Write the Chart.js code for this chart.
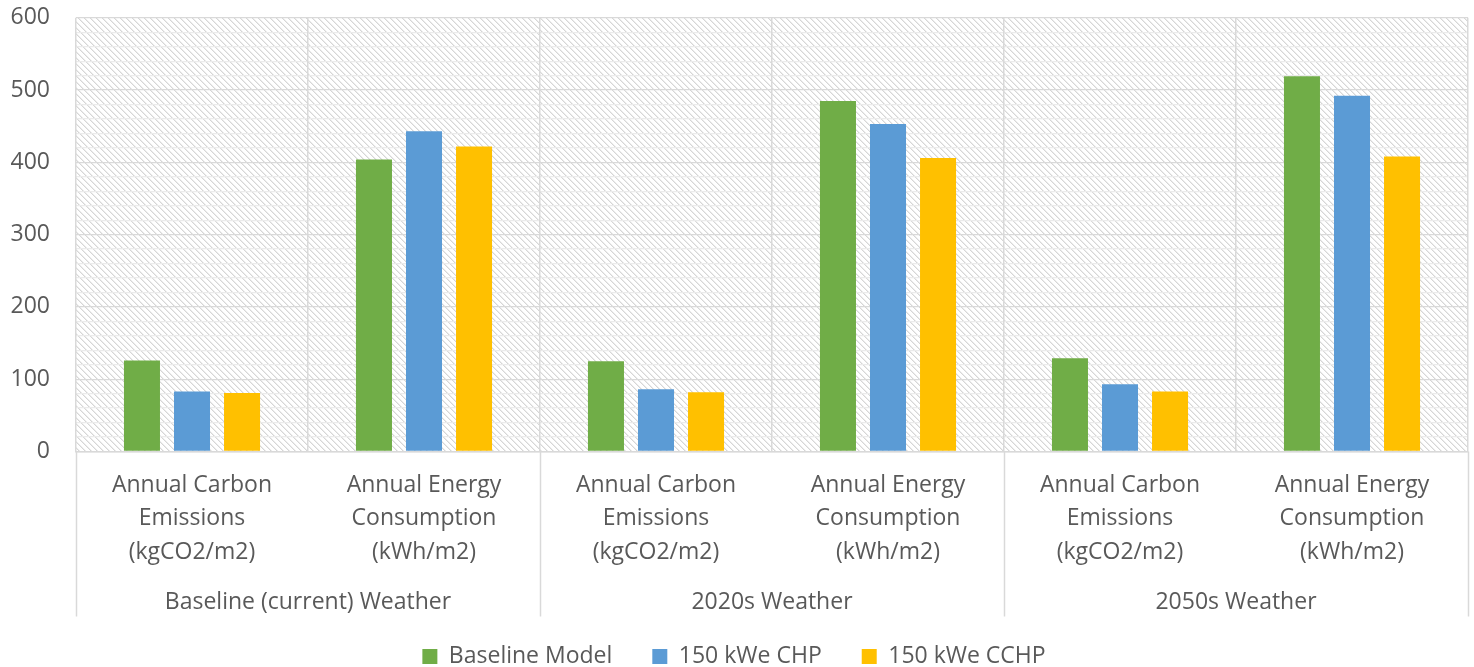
<!DOCTYPE html>
<html>
<head>
<meta charset="utf-8">
<script src="https://cdn.jsdelivr.net/npm/chart.js@4/dist/chart.umd.min.js"></script>
<style>
html,body{margin:0;padding:0;background:#fff;}
#wrap{width:1474px;height:667px;}
</style>
</head>
<body>
<div id="wrap"><canvas id="c" width="1474" height="667"></canvas></div>
<script>
const categories = [
  ["Annual Carbon","Emissions","(kgCO2/m2)"],
  ["Annual Energy","Consumption","(kWh/m2)"],
  ["Annual Carbon","Emissions","(kgCO2/m2)"],
  ["Annual Energy","Consumption","(kWh/m2)"],
  ["Annual Carbon","Emissions","(kgCO2/m2)"],
  ["Annual Energy","Consumption","(kWh/m2)"]
];
const groupLabels = ["Baseline (current) Weather","2020s Weather","2050s Weather"];
const seriesNames = ["Baseline Model","150 kWe CHP","150 kWe CCHP"];
const baselineModel = [126, 404, 125, 485, 129, 519];
const chp150 = [83, 443, 86, 453, 93, 492];
const cchp150 = [81, 422, 82, 406, 83, 408];
const yTicksMajor = [0,100,200,300,400,500,600];

const FONT = "'Open Sans', 'Noto Sans', sans-serif";
const FS = 23;
const TXT = "#595959";

function makePattern(){
  const p = document.createElement('canvas');
  p.width = 6; p.height = 6;
  const g = p.getContext('2d');
  g.fillStyle = '#ffffff'; g.fillRect(0,0,6,6);
  for(let i=0;i<6;i++){
    g.fillStyle = '#d6d6d6'; g.fillRect(i,i,1,1);
    g.fillStyle = '#ececec'; g.fillRect((i+1)%6,i,1,1);
  }
  return document.getElementById('c').getContext('2d').createPattern(p,'repeat');
}
const pattern = makePattern();

const bgPlugin = {
  id:'hatch',
  beforeDraw(chart){
    const {ctx, chartArea:a} = chart;
    ctx.save();
    ctx.fillStyle = pattern;
    ctx.fillRect(a.left, a.top, a.right-a.left, a.bottom-a.top);
    ctx.restore();
  }
};
const sepPlugin = {
  id:'groupSep',
  afterDraw(chart){
    const x = chart.scales.x, x2 = chart.scales.x2;
    const ctx = chart.ctx;
    const n = categories.length;
    const step = (x.right - x.left)/n;
    ctx.save();
    ctx.strokeStyle = '#d9d9d9';
    ctx.lineWidth = 1.5;
    for(let g=0; g<=groupLabels.length; g++){
      const px = Math.round(x.left + g*2*step) + 0.5;
      ctx.beginPath();
      ctx.moveTo(px, chart.chartArea.bottom);
      ctx.lineTo(px, x2.top + 45);
      ctx.stroke();
    }
    ctx.restore();
  }
};

new Chart(document.getElementById('c'), {
  type:'bar',
  data:{
    labels: categories,
    datasets:[
      {label:seriesNames[0], data:baselineModel, backgroundColor:'#70ad47'},
      {label:seriesNames[1], data:chp150, backgroundColor:'#5b9bd5'},
      {label:seriesNames[2], data:cchp150, backgroundColor:'#ffc000'}
    ]
  },
  options:{
    responsive:false,
    animation:false,
    devicePixelRatio:1,
    layout:{padding:{left:0,top:0,right:6,bottom:-11}},
    datasets:{bar:{categoryPercentage:0.647, barPercentage:0.72}},
    plugins:{
      legend:{
        position:'bottom',
        labels:{font:{family:FONT,size:FS}, color:TXT, boxWidth:15, boxHeight:15, padding:40}
      },
      tooltip:{enabled:false}
    },
    scales:{
      y:{
        min:0, max:600,
        ticks:{stepSize:20, autoSkip:false, font:{family:FONT,size:FS}, color:TXT, padding:4,
          callback:(v)=> yTicksMajor.includes(v) ? String(v) : ''},
        grid:{drawTicks:true, tickLength:22, tickColor:'rgba(0,0,0,0)',
          color:(c)=> (c.tick && c.tick.value%100===0) ? '#d9d9d9' : '#ebebeb', lineWidth:1.3},
        border:{display:false},
        afterFit:(s)=>{ s.width = 76; }
      },
      x:{
        ticks:{font:{family:FONT,size:FS,lineHeight:1.457}, color:TXT, padding:17, maxRotation:0, autoSkip:false},
        grid:{offset:true, drawTicks:false, color:'#d9d9d9', lineWidth:1.5},
        border:{color:'#d9d9d9', width:1.5},
        afterFit:(s)=>{ s.height = 120; }
      },
      x2:{
        type:'category',
        labels: groupLabels,
        position:'bottom',
        offset:true,
        ticks:{font:{family:FONT,size:FS}, color:TXT, padding:17, maxRotation:0, autoSkip:false},
        grid:{display:false, drawTicks:false},
        border:{display:false},
        afterFit:(s)=>{ s.height = 33.5; s._computeLabelArea = () => undefined; }
      }
    }
  },
  plugins:[bgPlugin, sepPlugin]
});
</script>
</body>
</html>
